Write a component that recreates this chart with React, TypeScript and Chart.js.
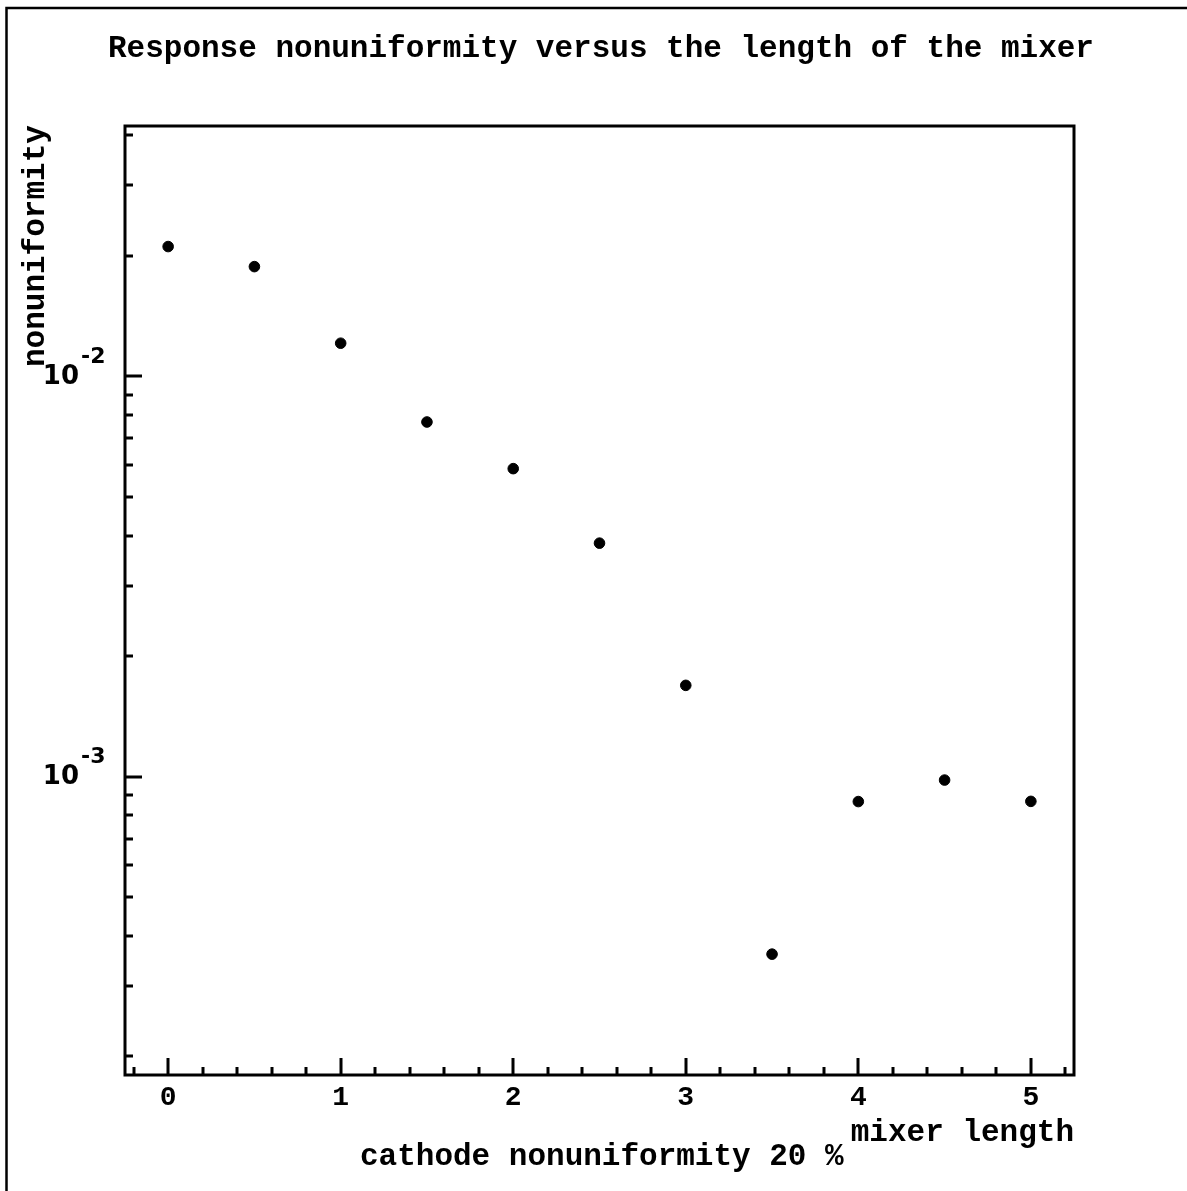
import React, { useEffect, useRef } from "react";
import { Chart, registerables } from "chart.js";

Chart.register(...registerables);

// ---- data ----
const mixerLength = [0, 0.5, 1, 1.5, 2, 2.5, 3, 3.5, 4, 4.5, 5];
const nonuniformity = [0.0211, 0.0188, 0.0121, 0.00769, 0.00588, 0.00383, 0.00169, 0.00036, 0.000866, 0.00098, 0.000867];

// ---- axes / labels ----
const xMajorTicks = [0, 1, 2, 3, 4, 5];
const xTickLabels = ["0", "1", "2", "3", "4", "5"];
const yMajorTicks = [1e-3, 1e-2];
const yTickExponents = ["-3", "-2"];
const xMin = -0.25;
const xMax = 5.25;
const yMin = 1.796e-4;
const yMax = 0.04222;
const titleText = "Response nonuniformity versus the length of the mixer";
const yAxisTitle = "nonuniformity";
const xAxisTitle = "mixer length";
const footText = "cathode nonuniformity 20 %";

const MONO = "bold 31px 'Liberation Mono', 'Courier New', monospace";
const TICKFONT = "bold 28px 'Liberation Mono', 'Courier New', monospace";

const rootPlugin = {
  id: "rootStyle",
  afterDraw(chart: any) {
    const ctx = chart.ctx as CanvasRenderingContext2D;
    const xs = chart.scales.x;
    const ys = chart.scales.y;
    const a = chart.chartArea;
    ctx.save();
    ctx.strokeStyle = "#000";
    ctx.fillStyle = "#000";

    // outer pad frame
    ctx.lineWidth = 2.5;
    ctx.strokeRect(6.5, 8, 3000, 3000);

    // plot frame
    ctx.lineWidth = 3;
    ctx.strokeRect(a.left, a.top, a.right - a.left, a.bottom - a.top);

    // x ticks (inward, bottom axis)
    ctx.lineWidth = 3;
    ctx.beginPath();
    for (let i = -1; i <= 26; i++) {
      const v = i * 0.2;
      if (v < xMin || v > xMax) continue;
      const major = i % 5 === 0;
      const px = Math.round(xs.getPixelForValue(v));
      ctx.moveTo(px, a.bottom);
      ctx.lineTo(px, a.bottom - (major ? 17 : 8));
    }
    // y ticks (inward, left axis)
    for (let d = -4; d <= -1; d++) {
      for (let m = 1; m <= 9; m++) {
        const v = m * Math.pow(10, d);
        if (v < yMin || v > yMax) continue;
        const py = Math.round(ys.getPixelForValue(v));
        ctx.moveTo(a.left, py);
        ctx.lineTo(a.left + (m === 1 ? 17 : 8), py);
      }
    }
    ctx.stroke();

    // x tick labels
    ctx.font = TICKFONT;
    ctx.textAlign = "center";
    ctx.textBaseline = "middle";
    xMajorTicks.forEach((v, i) => {
      ctx.fillText(xTickLabels[i], xs.getPixelForValue(v), 1098);
    });

    // y tick labels 10^n
    yMajorTicks.forEach((v, i) => {
      const py = ys.getPixelForValue(v);
      ctx.font = "bold 26px 'DejaVu Sans', sans-serif";
      ctx.textAlign = "right";
      ctx.textBaseline = "middle";
      ctx.fillText("10", 79, py + 1);
      ctx.font = "bold 22px 'DejaVu Sans', sans-serif";
      ctx.textAlign = "left";
      ctx.fillText(yTickExponents[i], 81, py - 19);
    });

    // title and axis titles
    ctx.font = MONO;
    ctx.textBaseline = "middle";
    ctx.textAlign = "left";
    ctx.fillText(titleText, 108, 49);
    ctx.textAlign = "right";
    ctx.fillText(xAxisTitle, 1074, 1133);
    ctx.textAlign = "left";
    ctx.fillText(footText, 360, 1157);

    ctx.save();
    ctx.translate(36, 367);
    ctx.rotate(-Math.PI / 2);
    ctx.textAlign = "left";
    ctx.textBaseline = "middle";
    ctx.fillText(yAxisTitle, 0, 0);
    ctx.restore();

    ctx.restore();
  },
};

export default function App() {
  const ref = useRef<HTMLCanvasElement | null>(null);
  useEffect(() => {
    if (!ref.current) return;
    const chart = new Chart(ref.current, {
      type: "scatter",
      data: {
        datasets: [
          {
            data: mixerLength.map((x, i) => ({ x, y: nonuniformity[i] })),
            backgroundColor: "#000",
            borderColor: "#000",
            pointRadius: 5.3,
            pointHoverRadius: 5.3,
            pointStyle: "circle",
            showLine: false,
          },
        ],
      },
      options: {
        animation: false,
        responsive: false,
        devicePixelRatio: 1,
        layout: { padding: { left: 125, right: 113, top: 126, bottom: 116 } },
        plugins: { legend: { display: false }, tooltip: { enabled: false }, title: { display: false } },
        scales: {
          x: { type: "linear", min: xMin, max: xMax, display: false },
          y: { type: "logarithmic", min: yMin, max: yMax, display: false },
        },
        events: [],
      },
      plugins: [rootPlugin],
    });
    return () => chart.destroy();
  }, []);
  return (
    <div style={{ position: "absolute", left: 0, top: 0, width: 1187, height: 1191, background: "#fff" }}>
      <canvas ref={ref} width={1187} height={1191} style={{ display: "block" }} />
    </div>
  );
}
